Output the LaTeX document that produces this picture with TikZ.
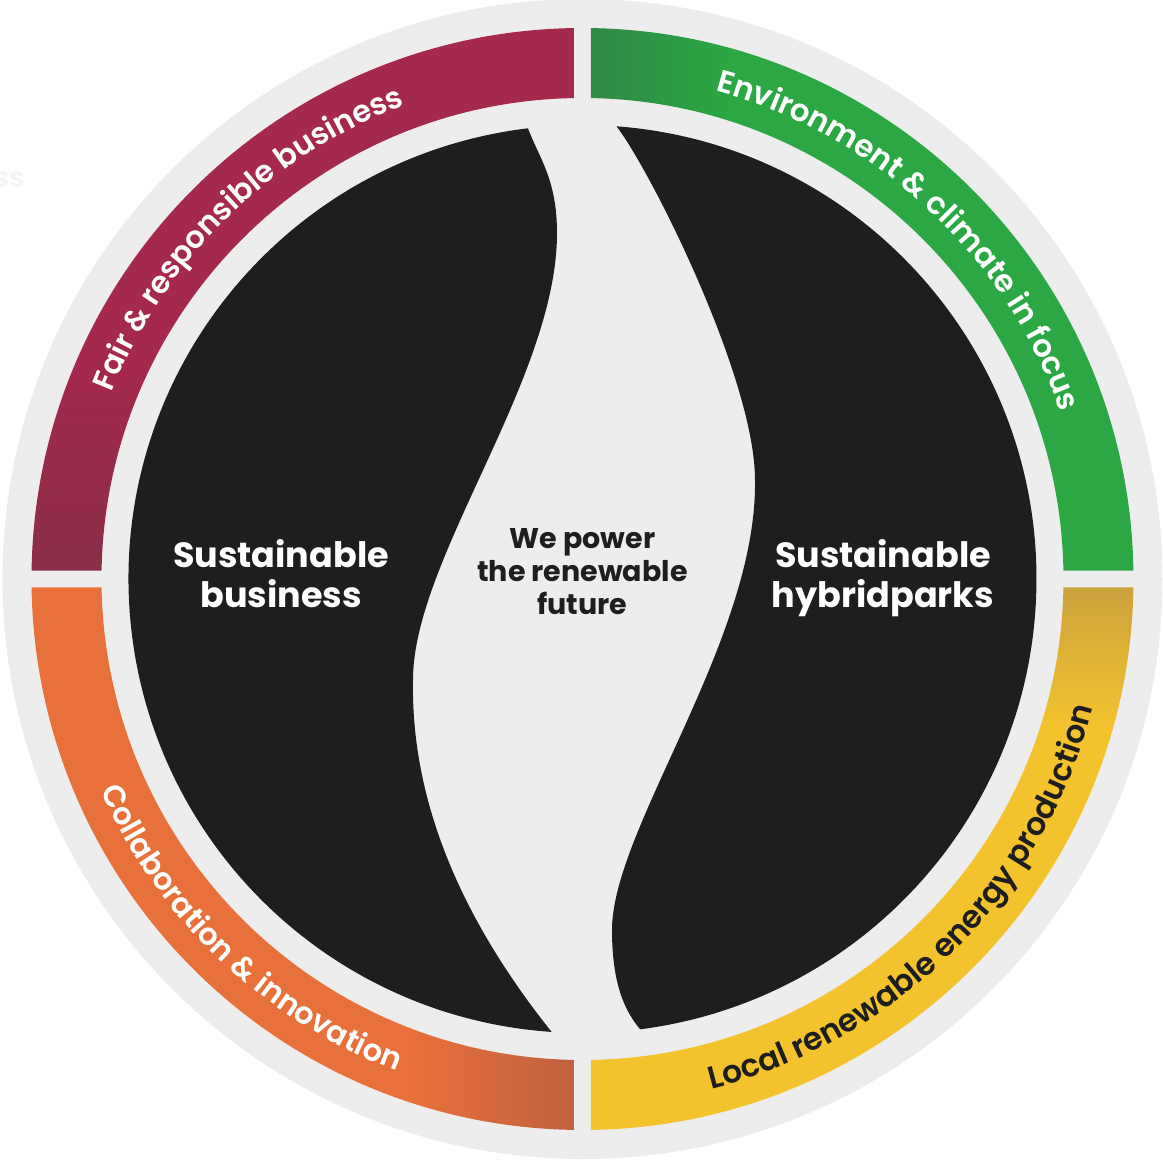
\documentclass[tikz,border=0pt]{standalone}
\usepackage{fontspec}
\setmainfont{Poppins}[BoldFont=Poppins SemiBold]
\newfontfamily\heavyfont{Poppins Bold}
\usetikzlibrary{decorations.text}

\definecolor{bggray}{HTML}{EDEDED}
\definecolor{inkblack}{HTML}{1E1E1E}
\definecolor{fairred}{HTML}{A5284D}
\definecolor{fairdark}{HTML}{8A2E48}
\definecolor{envgreen}{HTML}{2BA843}
\definecolor{envdark}{HTML}{2F8A45}
\definecolor{colorange}{HTML}{E8703A}
\definecolor{coldark}{HTML}{C2603F}
\definecolor{locyellow}{HTML}{F3C32E}
\definecolor{locdark}{HTML}{CBA23C}

% shadings of the four ring quarters
\pgfdeclareverticalshading{fairshade}{100bp}{color(0bp)=(fairdark); color(25bp)=(fairdark); color(44bp)=(fairred); color(100bp)=(fairred)}
\pgfdeclarehorizontalshading{envshade}{100bp}{color(0bp)=(envdark); color(25bp)=(envdark); color(38bp)=(envgreen); color(100bp)=(envgreen)}
\pgfdeclarehorizontalshading{colshade}{100bp}{color(0bp)=(colorange); color(60bp)=(colorange); color(75bp)=(coldark); color(100bp)=(coldark)}
\pgfdeclareverticalshading{locshade}{100bp}{color(0bp)=(locyellow); color(62bp)=(locyellow); color(75bp)=(locdark); color(100bp)=(locdark)}

% quarter of the coloured ring, starting at angle #1
\newcommand{\ringseg}[1]{({#1+0.88}:551) arc[start angle={#1+0.88}, end angle={#1+89.12}, radius=551]
  -- ({#1+88.99}:481) arc[start angle={#1+88.99}, end angle={#1+1.01}, radius=481] -- cycle}

\tikzset{
  titletext/.style={text=white, align=center, font=\heavyfont\fontsize{35}{40}\selectfont},
  hubtext/.style={text=inkblack, align=center, font=\heavyfont\fontsize{28.5}{33}\selectfont}
}

\begin{document}
\begin{tikzpicture}[x=1pt, y=1pt]
  \useasboundingbox (-582.5,-584) rectangle (580.5,579);
  \fill[bggray] (0,0) circle (580);
  \node[text=gray!8, font=\bfseries\fontsize{28}{28}\selectfont, anchor=west] (faint) at (-592,399) {ss};

  % coloured ring
  \shade[shading=fairshade] \ringseg{90};
  \shade[shading=envshade] \ringseg{0};
  \shade[shading=colshade] \ringseg{180};
  \shade[shading=locshade] \ringseg{270};

  % ring labels
  \path[decorate, decoration={text along path, text align=center, text color=white,
      text={|\bfseries\fontsize{30.5}{30.5}\selectfont|Fair {\&} responsible business}}]
    (179.5:506) arc[start angle=179.5, end angle=89.5, radius=506];
  \path[decorate, decoration={text along path, text align=center, text color=white,
      text={|\bfseries\fontsize{31}{31}\selectfont|Environment {\&} climate in focus}}]
    (92:506) arc[start angle=92, end angle=2, radius=506];
  \path[decorate, decoration={text along path, text align=center, text color=white,
      text={|\bfseries\fontsize{30.5}{30.5}\selectfont|Collaboration {\&} innovation}}]
    (181.5:526) arc[start angle=181.5, end angle=271.5, radius=526];
  \path[decorate, decoration={text along path, text align=center, text color=inkblack,
      text={|\bfseries\fontsize{31.5}{31.5}\selectfont|Local renewable energy production}}]
    (270:526) arc[start angle=270, end angle=360, radius=526];

  % the two black halves
  \fill[inkblack] (96.9:454) arc[start angle=96.9, end angle=266.1, radius=454]
    .. controls (-105,-360) and (-172,-240) .. (-169.5,-101)
    .. controls (-169.5,20) and (-25.5,200) .. (-25.5,346)
    .. controls (-25.5,400) and (-43.5,421) .. (96.9:454) -- cycle;
  \fill[inkblack] (85.7:454) arc[start angle=85.7, end angle=-82.7, radius=454]
    .. controls (45,-435) and (29.5,-410) .. (29.5,-351)
    .. controls (29.5,-250) and (175,-60) .. (172.5,99)
    .. controls (172.5,200) and (69,407) .. (85.7:454) -- cycle;

  \node[titletext] (bizlabel) at (-301.5,5) {Sustainable\\business};
  \node[titletext] (parklabel) at (300.5,1) {Sustainable\\hybridparks};
  \node[hubtext] (hublabel) at (0,7) {We power\\the renewable\\future};
\end{tikzpicture}
\end{document}
